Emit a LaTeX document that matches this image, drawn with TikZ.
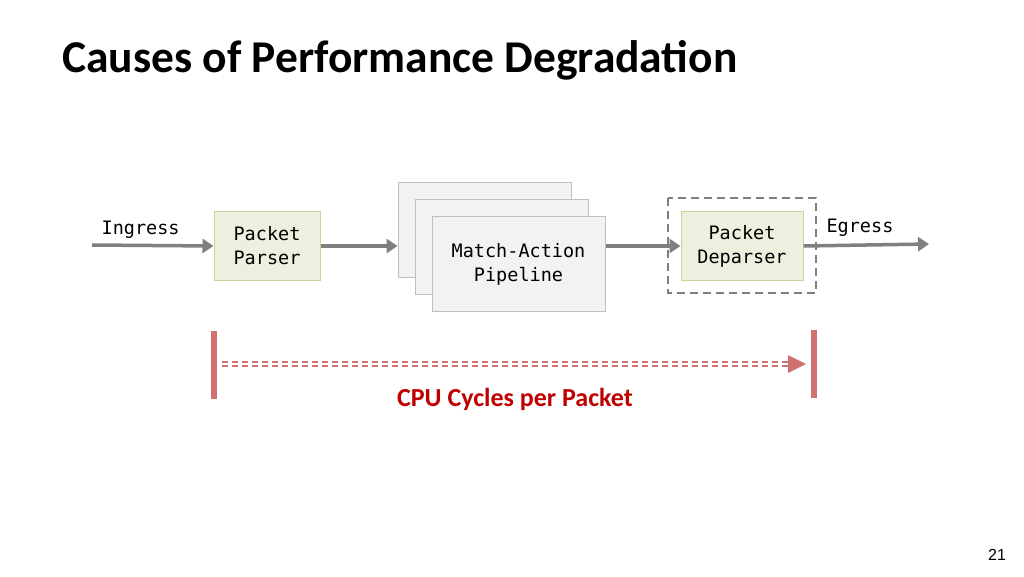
\documentclass[tikz,border=0pt]{standalone}
\usepackage{fontspec}
\setmainfont{Carlito}
\newfontfamily\codefont{DejaVu Sans Mono}
\newfontfamily\pagefont{Liberation Sans}
\usetikzlibrary{arrows.meta}
\definecolor{flowgrey}{RGB}{127,127,127}
\definecolor{stagefill}{RGB}{235,241,222}
\definecolor{stageline}{RGB}{195,214,155}
\definecolor{tablefill}{RGB}{242,242,242}
\definecolor{tableline}{RGB}{191,191,191}
\definecolor{barred}{RGB}{208,112,112}
\definecolor{titlered}{RGB}{192,0,0}
\begin{document}
\begin{tikzpicture}[x=1pt, y=-1pt,
	code/.style={font=\codefont\fontsize{18.5}{24}\selectfont, align=center},
	stage/.style={code, draw=stageline, fill=stagefill, line width=1pt, inner sep=0, minimum width=106, minimum height=69},
	tbl/.style={code, draw=tableline, fill=tablefill, line width=1pt, inner sep=0, minimum width=173, minimum height=95},
	bar/.style={fill=barred, inner sep=0, minimum width=6, minimum height=68},
	flow/.style={draw=flowgrey, line width=3.5pt, -{Triangle[length=11pt, width=14pt]}}]
	\useasboundingbox (0,0) rectangle (1024,576);

	\node[anchor=base west, inner sep=0, font=\bfseries\fontsize{45.5}{54}\selectfont] (title) at (62,72) {Causes of Performance Degradation};

	% stages
	\coordinate (in) at (92,245);
	\node[stage] (parser) at (267,246) {Packet\\Parser};
	\node[tbl] (t1) at (484.5,229.5) {};
	\node[tbl] (t2) at (501.5,246.5) {};
	\node[tbl] (t3) at (518.5,264) {Match-Action\\Pipeline};
	\draw[flowgrey, line width=1.5pt, dash pattern=on 8pt off 5pt] (668,198) rectangle (816,293);
	\node[stage, minimum width=122] (deparser) at (742,246) {Packet\\Deparser};
	\coordinate (out) at (929,244);

	\draw[flow] (in) --node[code, above=2pt, pos=0.4]{Ingress} (parser.west);
	\draw[flow] (parser.east) -- (t1.west |- parser.east);
	\draw[flow] (t3.east |- deparser.west) -- (deparser.west);
	\draw[flow] (deparser.east) -- (out) node[code, pos=0.45, above=4pt]{Egress};

	% cycles
	\node[bar] (first) at (214,365) {};
	\node[bar] (last) at (814,364) {};
	\coordinate (tip) at (789,364);
	\draw[barred, line width=2.2pt, double=white, double distance=2.4pt, dash pattern=on 6pt off 4pt] (first.east |- tip) ++(5,0) -- (tip);
	\fill[barred] (tip) ++(-1,-9) -- (806,364) -- ++(-18,9) -- cycle;
	\node[text=titlered, font=\bfseries\fontsize{26}{30}\selectfont] (cycles) at (515,399) {CPU Cycles per Packet};

	\node[font=\pagefont\fontsize{16}{19}\selectfont] (page) at (997,555) {21};
\end{tikzpicture}
\end{document}
